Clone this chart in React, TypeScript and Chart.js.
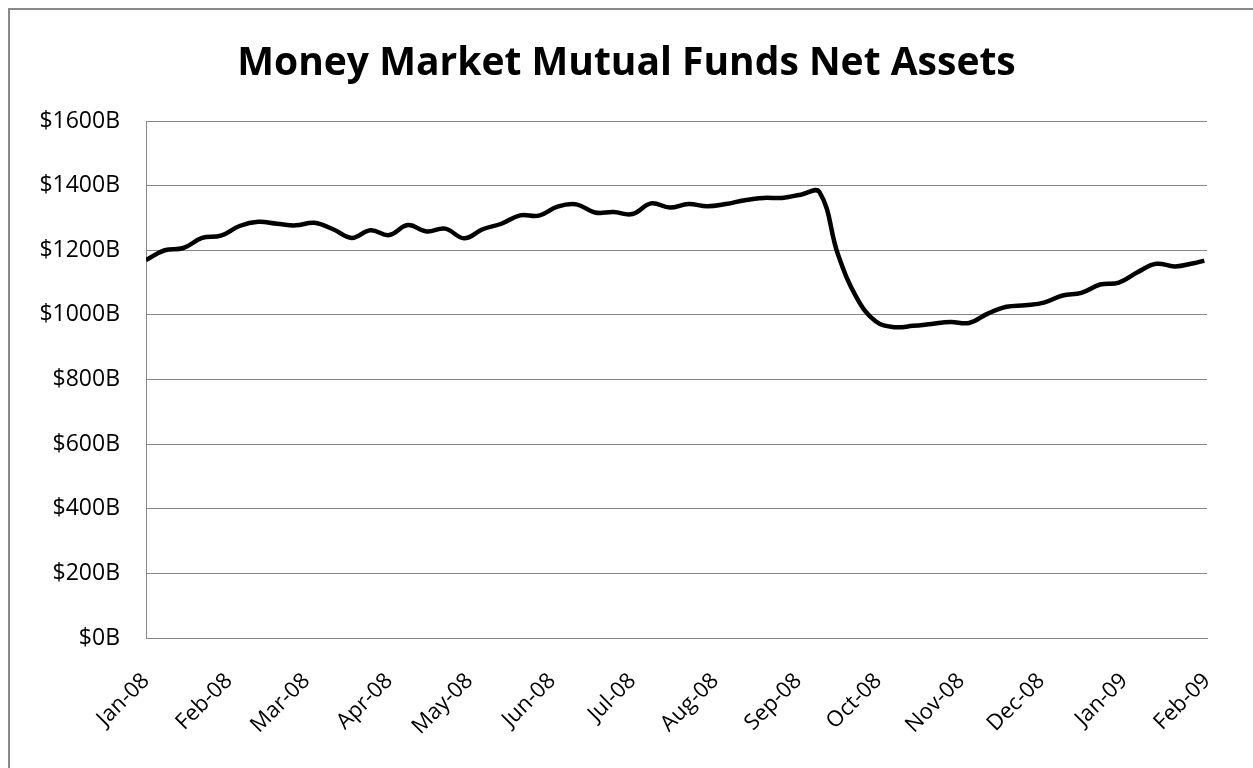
import React, { useEffect, useRef } from "react";
import { Chart, registerables } from "chart.js";

Chart.register(...registerables);

const chartTitle = "Money Market Mutual Funds Net Assets";

// days since Jan 1, 2008 for each weekly observation
const weekDays = [
  0, 7, 14, 21, 28, 35, 42, 49, 56, 63, 70, 77, 84, 91, 98, 105, 112, 119, 126,
  133, 140, 147, 154, 161, 168, 175, 182, 189, 196, 203, 210, 217, 224, 231,
  238, 245, 252, 259, 266, 273, 280, 287, 294, 301, 308, 315, 322, 329, 336,
  343, 350, 357, 364, 371, 378, 385, 392, 396,
];

// net assets, $ billions
const netAssets = [
  1170, 1200, 1207, 1238, 1245, 1275, 1288, 1282, 1277, 1285, 1265, 1238, 1262,
  1247, 1278, 1258, 1267, 1237, 1265, 1282, 1308, 1307, 1335, 1342, 1317, 1318,
  1312, 1345, 1332, 1343, 1336, 1343, 1355, 1362, 1362, 1372, 1380, 1185, 1052,
  980, 962, 966, 972, 978, 975, 1004, 1025, 1030, 1038, 1060, 1068, 1094, 1100,
  1132, 1158, 1150, 1160, 1168,
];

// month tick positions (days since Jan 1, 2008) and labels
const monthDays = [0, 31, 60, 91, 121, 152, 182, 213, 244, 274, 305, 335, 366, 397];
const monthLabels = [
  "Jan-08", "Feb-08", "Mar-08", "Apr-08", "May-08", "Jun-08", "Jul-08",
  "Aug-08", "Sep-08", "Oct-08", "Nov-08", "Dec-08", "Jan-09", "Feb-09",
];

const yMin = 0;
const yMax = 1600;
const yStep = 200;

const FONT = "'Open Sans', 'DejaVu Sans', sans-serif";
const GRID = "#868686";

const frameAndTitle = {
  id: "frameAndTitle",
  beforeDraw(chart: any) {
    const ctx = chart.ctx;
    ctx.save();
    ctx.strokeStyle = "#8a8a8a";
    ctx.lineWidth = 2;
    ctx.beginPath();
    ctx.moveTo(9, chart.height + 5);
    ctx.lineTo(9, 9);
    ctx.lineTo(chart.width + 5, 9);
    ctx.stroke();
    ctx.fillStyle = "#000000";
    ctx.font = "bold 39px " + FONT;
    ctx.textAlign = "center";
    ctx.textBaseline = "alphabetic";
    ctx.fillText(chartTitle, chart.width / 2, 75);
    ctx.restore();
  },
};

export default function App() {
  const ref = useRef<HTMLCanvasElement | null>(null);

  useEffect(() => {
    if (!ref.current) return;
    const points = weekDays.map((d, i) => ({ x: d, y: netAssets[i] }));
    const chart = new Chart(ref.current, {
      type: "line",
      data: {
        datasets: [
          {
            label: "Net Assets",
            data: points,
            borderColor: "#000000",
            borderWidth: 4.5,
            pointRadius: 0,
            tension: 0.4,
            fill: false,
          },
        ],
      },
      options: {
        animation: false,
        responsive: false,
        maintainAspectRatio: false,
        layout: { padding: { left: 10, right: 46, top: 121, bottom: 0 } },
        plugins: {
          legend: { display: false },
          tooltip: { enabled: false },
          title: { display: false },
        },
        scales: {
          x: {
            type: "linear",
            min: monthDays[0],
            max: monthDays[monthDays.length - 1],
            afterBuildTicks: (scale: any) => {
              scale.ticks = monthDays.map((v) => ({ value: v }));
            },
            afterFit: (scale: any) => {
              scale.height = 130;
              scale.paddingLeft = 0;
              scale.paddingRight = 0;
            },
            grid: { display: false, drawTicks: false },
            border: { display: true, color: GRID, width: 1 },
            ticks: {
              autoSkip: false,
              maxRotation: 45,
              minRotation: 45,
              padding: 30,
              color: "#000000",
              font: { family: FONT, size: 22 },
              callback: (v: any) => {
                const i = monthDays.indexOf(Number(v));
                return i >= 0 ? monthLabels[i] : "";
              },
            },
          },
          y: {
            min: yMin,
            max: yMax,
            afterFit: (scale: any) => {
              scale.width = 136;
            },
            grid: { color: GRID, lineWidth: 1, drawTicks: false },
            border: { display: true, color: GRID, width: 1 },
            ticks: {
              stepSize: yStep,
              padding: 26,
              color: "#000000",
              font: { family: FONT, size: 23 },
              callback: (v: any) => "$" + v + "B",
            },
          },
        },
      },
      plugins: [frameAndTitle],
    });
    return () => chart.destroy();
  }, []);

  return (
    <div style={{ position: "absolute", left: 0, top: 0, width: 1253, height: 768, background: "#fff" }}>
      <canvas ref={ref} width={1253} height={768} style={{ display: "block" }} />
    </div>
  );
}
